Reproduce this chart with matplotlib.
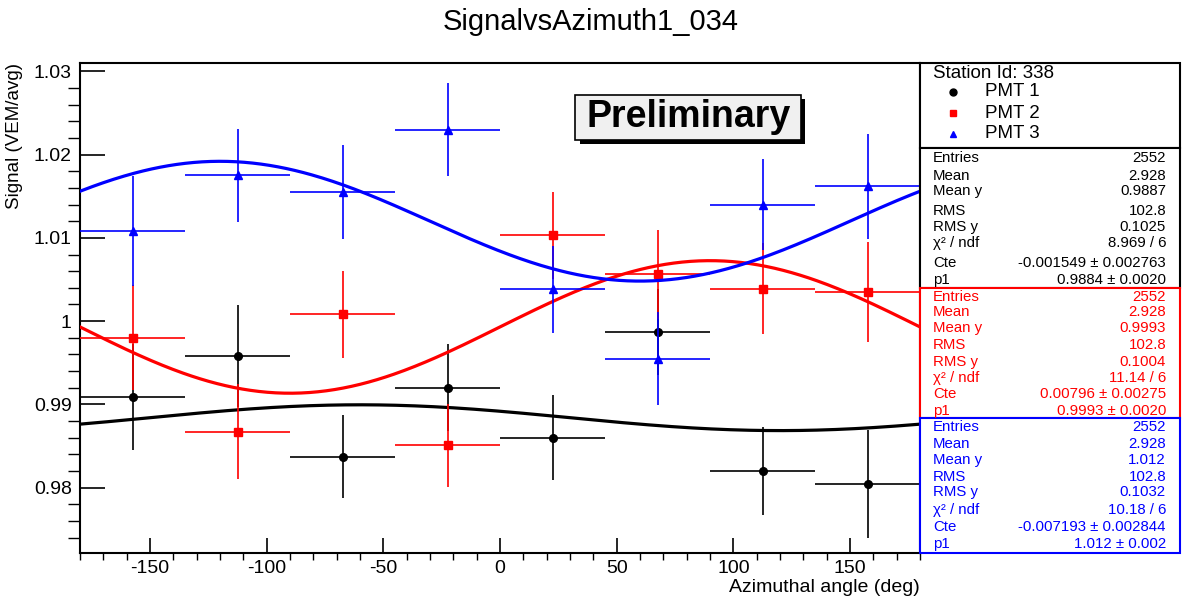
import numpy as np
import matplotlib
matplotlib.use("Agg")
import matplotlib.pyplot as plt
from matplotlib.patches import Rectangle
from matplotlib.ticker import MultipleLocator

plt.rcParams['font.family'] = ['Liberation Sans', 'DejaVu Sans']
plt.rcParams['axes.unicode_minus'] = False

W, H = 1182, 613

# bins of 45 deg in azimuth
azimuth = [-157.5, -112.5, -67.5, -22.5, 22.5, 67.5, 112.5, 157.5]
half_bin = [22.5] * 8

pmt1_signal = [0.9909, 0.9958, 0.9837, 0.9920, 0.9860, 0.9987, 0.9820, 0.9804]
pmt1_err = [0.0064, 0.0061, 0.0050, 0.0052, 0.0051, 0.0052, 0.0053, 0.0065]
pmt2_signal = [0.9980, 0.9867, 1.0008, 0.9851, 1.0103, 1.0056, 1.0039, 1.0035]
pmt2_err = [0.0063, 0.0057, 0.0052, 0.0050, 0.0052, 0.0053, 0.0055, 0.0060]
pmt3_signal = [1.0108, 1.0175, 1.0155, 1.0230, 1.0038, 0.9955, 1.0140, 1.0162]
pmt3_err = [0.0066, 0.0056, 0.0056, 0.0056, 0.0052, 0.0056, 0.0055, 0.0063]

# fit: p1 + Cte*cos(phi - phase)
fit_p1 = [0.9884, 0.9993, 1.012]
fit_cte = [-0.001549, 0.00796, -0.007193]
fit_phase = [120, 90, 60]

pmt_names = ['PMT 1', 'PMT 2', 'PMT 3']
colors = ['black', 'red', 'blue']
markers = ['o', 's', '^']

stat_labels = ['Entries', 'Mean', 'Mean y', 'RMS', 'RMS y', 'χ² / ndf', 'Cte', 'p1']
stat_values = [
    ['2552', '2.928', '0.9887', '102.8', '0.1025', '8.969 / 6', '-0.001549 ± 0.002763', '0.9884 ± 0.0020'],
    ['2552', '2.928', '0.9993', '102.8', '0.1004', '11.14 / 6', '0.00796 ± 0.00275', '0.9993 ± 0.0020'],
    ['2552', '2.928', '1.012', '102.8', '0.1032', '10.18 / 6', '-0.007193 ± 0.002844', '1.012 ± 0.002'],
]


def fx(x):
    return x / W


def fy(y):
    return 1 - y / H


fig = plt.figure(figsize=(W / 100, H / 100), dpi=100)
ax = fig.add_axes([fx(80), fy(553), fx(920) - fx(80), fy(63) - fy(553)])

signals = [pmt1_signal, pmt2_signal, pmt3_signal]
errors = [pmt1_err, pmt2_err, pmt3_err]
phi = np.linspace(-180, 180, 400)
for i in range(3):
    z = 2 + i * 2
    ax.errorbar(azimuth, signals[i], xerr=half_bin, yerr=errors[i], fmt=markers[i],
                color=colors[i], ms=5.5 if i < 2 else 6, elinewidth=1.2, capsize=0, zorder=z)
    curve = fit_p1[i] + fit_cte[i] * np.cos(np.radians(phi - fit_phase[i]))
    ax.plot(phi, curve, color=colors[i], lw=2.3, zorder=z + 1)

ax.set_xlim(-180, 180)
ax.set_ylim(0.97215, 1.0310)
ax.xaxis.set_major_locator(MultipleLocator(50))
ax.xaxis.set_minor_locator(MultipleLocator(10))
ax.yaxis.set_major_locator(MultipleLocator(0.01))
ax.yaxis.set_minor_locator(MultipleLocator(0.002))
ax.yaxis.set_major_formatter(matplotlib.ticker.FuncFormatter(
    lambda v, p: '1' if abs(v - 1) < 1e-9 else f'{v:.2f}'))
ax.tick_params(axis='both', direction='in', labelsize=14, width=1.2)
ax.tick_params(axis='x', which='major', length=10.5, pad=5)
ax.tick_params(axis='x', which='minor', length=5.3, width=1.0)
ax.tick_params(axis='y', which='major', length=18, pad=6)
ax.tick_params(axis='y', which='minor', length=9, width=1.0)
for s in ax.spines.values():
    s.set_linewidth(1.5)

fig.text(fx(920), fy(587), 'Azimuthal angle (deg)', ha='right', va='center', fontsize=14)
fig.text(fx(15), fy(63), 'Signal (VEM/avg)', ha='center', va='top', rotation=90, fontsize=13.5)
fig.text(0.5, fy(22), 'SignalvsAzimuth1_034', ha='center', va='center', fontsize=21)

# Preliminary label with shadow
fig.add_artist(Rectangle((fx(580), fy(144)), fx(225), fy(99) - fy(144),
                         transform=fig.transFigure, facecolor='black', edgecolor='none', zorder=10))
fig.add_artist(Rectangle((fx(575), fy(140)), fx(226), fy(95) - fy(140),
                         transform=fig.transFigure, facecolor='#f0f0f0', edgecolor='black', lw=1.2, zorder=11))
fig.text(fx(689), fy(117), 'Preliminary', ha='center', va='center', fontsize=27,
         fontweight='bold', zorder=12)

# legend box
fig.add_artist(Rectangle((fx(920), fy(148)), fx(260), fy(63) - fy(148),
                         transform=fig.transFigure, facecolor='white', edgecolor='black', lw=1.5, zorder=10))
fig.text(fx(933), fy(73), 'Station Id: 338', ha='left', va='center', fontsize=13.5, zorder=11)
for i, yy in enumerate([92, 113, 134]):
    fig.lines.append(matplotlib.lines.Line2D([fx(953)], [fy(yy)], marker=markers[i], color=colors[i],
                                             ms=5, transform=fig.transFigure, zorder=11))
    fig.text(fx(985), fy(yy), pmt_names[i], ha='left', va='center', fontsize=13.5, zorder=11)

# stats boxes
box_tops = [148, 288, 418]
box_bottoms = [288, 418, 553]
row_ys = [
    [158, 176, 191, 211, 227, 243, 263, 280],
    [297, 312, 328, 345, 362, 378, 394, 411],
    [427, 444, 460, 477, 492, 510, 527, 544],
]
for i in range(3):
    fig.add_artist(Rectangle((fx(920), fy(box_bottoms[i])), fx(260), fy(box_tops[i]) - fy(box_bottoms[i]),
                             transform=fig.transFigure, facecolor='white', edgecolor=colors[i],
                             lw=1.5, zorder=10 + i))
    for lab, val, yy in zip(stat_labels, stat_values[i], row_ys[i]):
        fig.text(fx(933), fy(yy), lab, ha='left', va='center', fontsize=10.8, color=colors[i], zorder=14)
        fig.text(fx(1166), fy(yy), val, ha='right', va='center', fontsize=10.8, color=colors[i], zorder=14)

fig.savefig('out.png', dpi=100)
